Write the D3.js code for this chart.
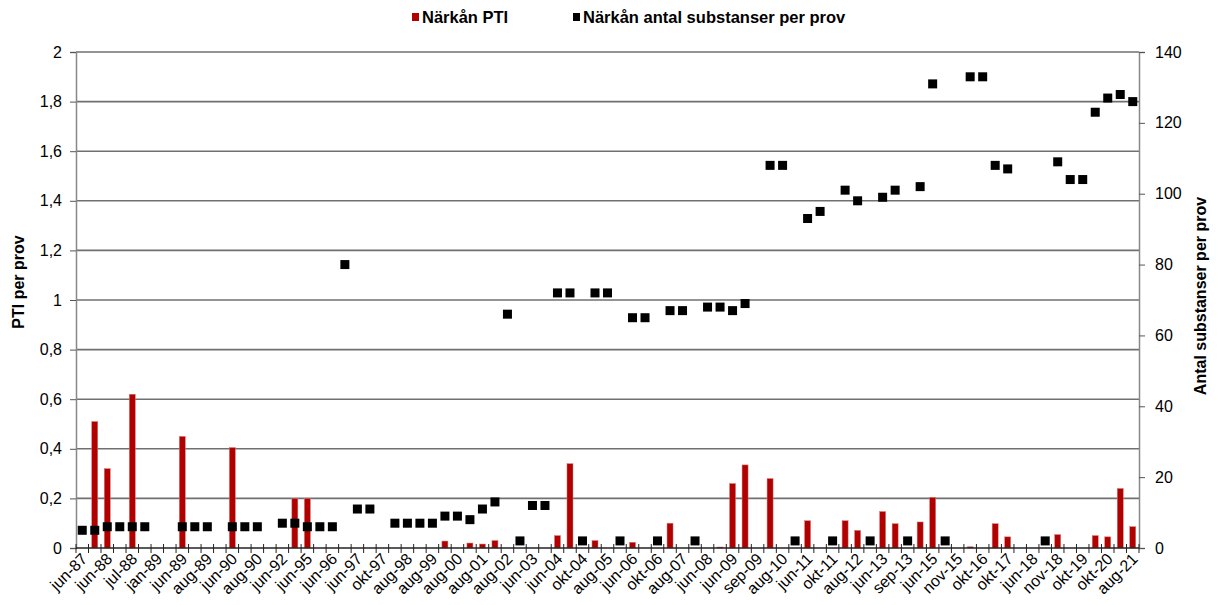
<!DOCTYPE html>
<html>
<head>
    <meta charset="utf-8">
    <title>Närkån PTI</title>
    <script src="https://d3js.org/d3.v7.min.js"></script>
    <style>
        body {
            margin: 0;
            padding: 0;
            background: white;
            font-family: "Liberation Sans", Arial, sans-serif;
        }
        .tick-label {
            font-size: 16px;
            fill: #000;
        }
        .x-label {
            font-size: 16px;
            fill: #000;
        }
        .axis-title {
            font-size: 16px;
            font-weight: bold;
            fill: #000;
        }
        .legend-text {
            font-size: 16.5px;
            font-weight: bold;
            fill: #000;
        }
        .grid-line {
            stroke: #707070;
            stroke-width: 1.6;
        }
    </style>
</head>
<body>
    <svg id="chart" width="1217" height="605"></svg>
    <script>
        // 85 sampling occasions; only every second one carries a visible label
        const shownLabels = ['jun-87', 'jun-88', 'jul-88', 'jan-89', 'jun-89', 'aug-89', 'jun-90', 'aug-90',
            'jun-92', 'jun-95', 'jun-96', 'jun-97', 'okt-97', 'aug-98', 'aug-99', 'aug-00', 'aug-01',
            'aug-02', 'jun-03', 'jun-04', 'okt-04', 'aug-05', 'jun-06', 'okt-06', 'aug-07', 'jun-08',
            'jun-09', 'sep-09', 'aug-10', 'jun-11', 'okt-11', 'aug-12', 'jun-13', 'sep-13', 'jun-15',
            'nov-15', 'okt-16', 'okt-17', 'jun-18', 'nov-18', 'okt-19', 'okt-20', 'aug-21'];

        // Närkån PTI (left axis), null = no bar
        const pti = [
            null, 0.51, 0.32, null, 0.62, null, null, null, 0.45, null,
            null, null, 0.405, null, null, null, null, 0.2, 0.2, null,
            null, null, null, null, null, null, null, null, null, 0.028,
            null, 0.02, 0.016, 0.03, null, null, null, null, 0.05, 0.34,
            null, 0.03, null, null, 0.023, null, null, 0.1, null, null,
            null, 0.004, 0.26, 0.335, null, 0.28, null, null, 0.11, null,
            null, 0.11, 0.071, null, 0.147, 0.098, null, 0.105, 0.204, null,
            null, 0.005, null, 0.098, 0.045, null, null, null, 0.054, null,
            null, 0.05, 0.045, 0.24, 0.086
        ];

        // Närkån antal substanser per prov (right axis), null = no sample
        const subst = [
            5, 5, 6, 6, 6, 6, null, null, 6, 6,
            6, null, 6, 6, 6, null, 7, 7, 6, 6,
            6, 80, 11, 11, null, 7, 7, 7, 7, 9,
            9, 8, 11, 13, 66, 2, 12, 12, 72, 72,
            2, 72, 72, 2, 65, 65, 2, 67, 67, 2,
            68, 68, 67, 69, null, 108, 108, 2, 93, 95,
            2, 101, 98, 2, 99, 101, 2, 102, 131, 2,
            null, 133, 133, 108, 107, null, null, 2, 109, 104,
            104, 123, 127, 128, 126
        ];

        const leftTicks = [0, 0.2, 0.4, 0.6, 0.8, 1, 1.2, 1.4, 1.6, 1.8, 2];
        const rightTicks = [0, 20, 40, 60, 80, 100, 120, 140];

        const svg = d3.select('#chart');
        const margin = { top: 52, right: 78, bottom: 57, left: 76 };
        const width = 1217;
        const height = 605;
        const plotBottom = height - margin.bottom;
        const plotRight = width - margin.right;

        const x = d3.scaleBand()
            .domain(d3.range(pti.length))
            .range([margin.left, plotRight])
            .padding(0);

        const yLeft = d3.scaleLinear().domain([0, 2]).range([plotBottom, margin.top]);
        const yRight = d3.scaleLinear().domain([0, 140]).range([plotBottom, margin.top]);

        const fmt = d => String(d).replace('.', ',');

        // Gridlines from left axis
        svg.append('g')
            .selectAll('line')
            .data(leftTicks.filter(d => d > 0))
            .join('line')
            .attr('class', 'grid-line')
            .attr('x1', margin.left)
            .attr('x2', plotRight)
            .attr('y1', d => yLeft(d))
            .attr('y2', d => yLeft(d));

        // Left axis
        const leftAxis = svg.append('g').attr('transform', `translate(${margin.left},0)`)
            .call(d3.axisLeft(yLeft).tickValues(leftTicks).tickFormat(fmt).tickSize(6).tickPadding(8));
        leftAxis.select('.domain').attr('stroke', '#888').attr('stroke-width', 1.5);
        leftAxis.selectAll('.tick line').attr('stroke', '#555');
        leftAxis.selectAll('.tick text').attr('class', 'tick-label')
            .attr('font-family', null).attr('font-size', null);

        // Right axis
        const rightAxis = svg.append('g').attr('transform', `translate(${plotRight},0)`)
            .call(d3.axisRight(yRight).tickValues(rightTicks).tickSize(6).tickPadding(10));
        rightAxis.select('.domain').attr('stroke', '#888').attr('stroke-width', 1.5);
        rightAxis.selectAll('.tick line').attr('stroke', '#555');
        rightAxis.selectAll('.tick text').attr('class', 'tick-label')
            .attr('font-family', null).attr('font-size', null);

        // Bars
        const barW = x.bandwidth() * 0.48;
        svg.append('g')
            .selectAll('rect')
            .data(pti.map((v, i) => ({ v, i })).filter(d => d.v !== null))
            .join('rect')
            .attr('x', d => x(d.i) + (x.bandwidth() - barW) / 2)
            .attr('y', d => yLeft(d.v))
            .attr('width', barW)
            .attr('height', d => plotBottom - yLeft(d.v))
            .attr('fill', '#b00000')
            .attr('stroke', '#d77a7a')
            .attr('stroke-width', 0.5);

        // Bottom axis with ticks at category boundaries
        const xAxisG = svg.append('g');
        xAxisG.append('line')
            .attr('x1', margin.left).attr('x2', plotRight)
            .attr('y1', plotBottom).attr('y2', plotBottom)
            .attr('stroke', '#222').attr('stroke-width', 1.5);
        xAxisG.selectAll('.xtick')
            .data(d3.range(pti.length + 1))
            .join('line')
            .attr('class', 'xtick')
            .attr('x1', i => margin.left + i * x.step())
            .attr('x2', i => margin.left + i * x.step())
            .attr('y1', plotBottom - 4)
            .attr('y2', plotBottom + 5)
            .attr('stroke', '#222');
        xAxisG.selectAll('.x-label')
            .data(shownLabels)
            .join('text')
            .attr('class', 'x-label')
            .attr('text-anchor', 'end')
            .attr('transform', (d, k) => {
                const cx = x(k * 2) + x.bandwidth() / 2 + 6;
                return `translate(${cx},${plotBottom + 12}) rotate(-45)`;
            })
            .text(d => d);

        // Markers
        const sq = 9;
        svg.append('g')
            .selectAll('rect')
            .data(subst.map((v, i) => ({ v, i })).filter(d => d.v !== null))
            .join('rect')
            .attr('x', d => x(d.i) + x.bandwidth() / 2 - sq / 2)
            .attr('y', d => yRight(d.v) - sq / 2)
            .attr('width', sq)
            .attr('height', sq)
            .attr('fill', '#000');

        // Axis titles
        svg.append('text')
            .attr('class', 'axis-title')
            .attr('text-anchor', 'middle')
            .attr('transform', `translate(24,282) rotate(-90)`)
            .text('PTI per prov');
        svg.append('text')
            .attr('class', 'axis-title')
            .attr('text-anchor', 'middle')
            .attr('transform', `translate(1206,296) rotate(-90)`)
            .text('Antal substanser per prov');

        // Legend
        const legend = [
            { label: 'Närkån PTI', color: '#b00000', x: 412 },
            { label: 'Närkån antal substanser per prov', color: '#000', x: 573 }
        ];
        const lg = svg.append('g').selectAll('g').data(legend).join('g')
            .attr('transform', d => `translate(${d.x},0)`);
        lg.append('rect')
            .attr('x', 0).attr('y', 13).attr('width', 7).attr('height', 8)
            .attr('fill', d => d.color);
        lg.append('text')
            .attr('class', 'legend-text')
            .attr('x', 10).attr('y', 23)
            .text(d => d.label);
    </script>
</body>
</html>
